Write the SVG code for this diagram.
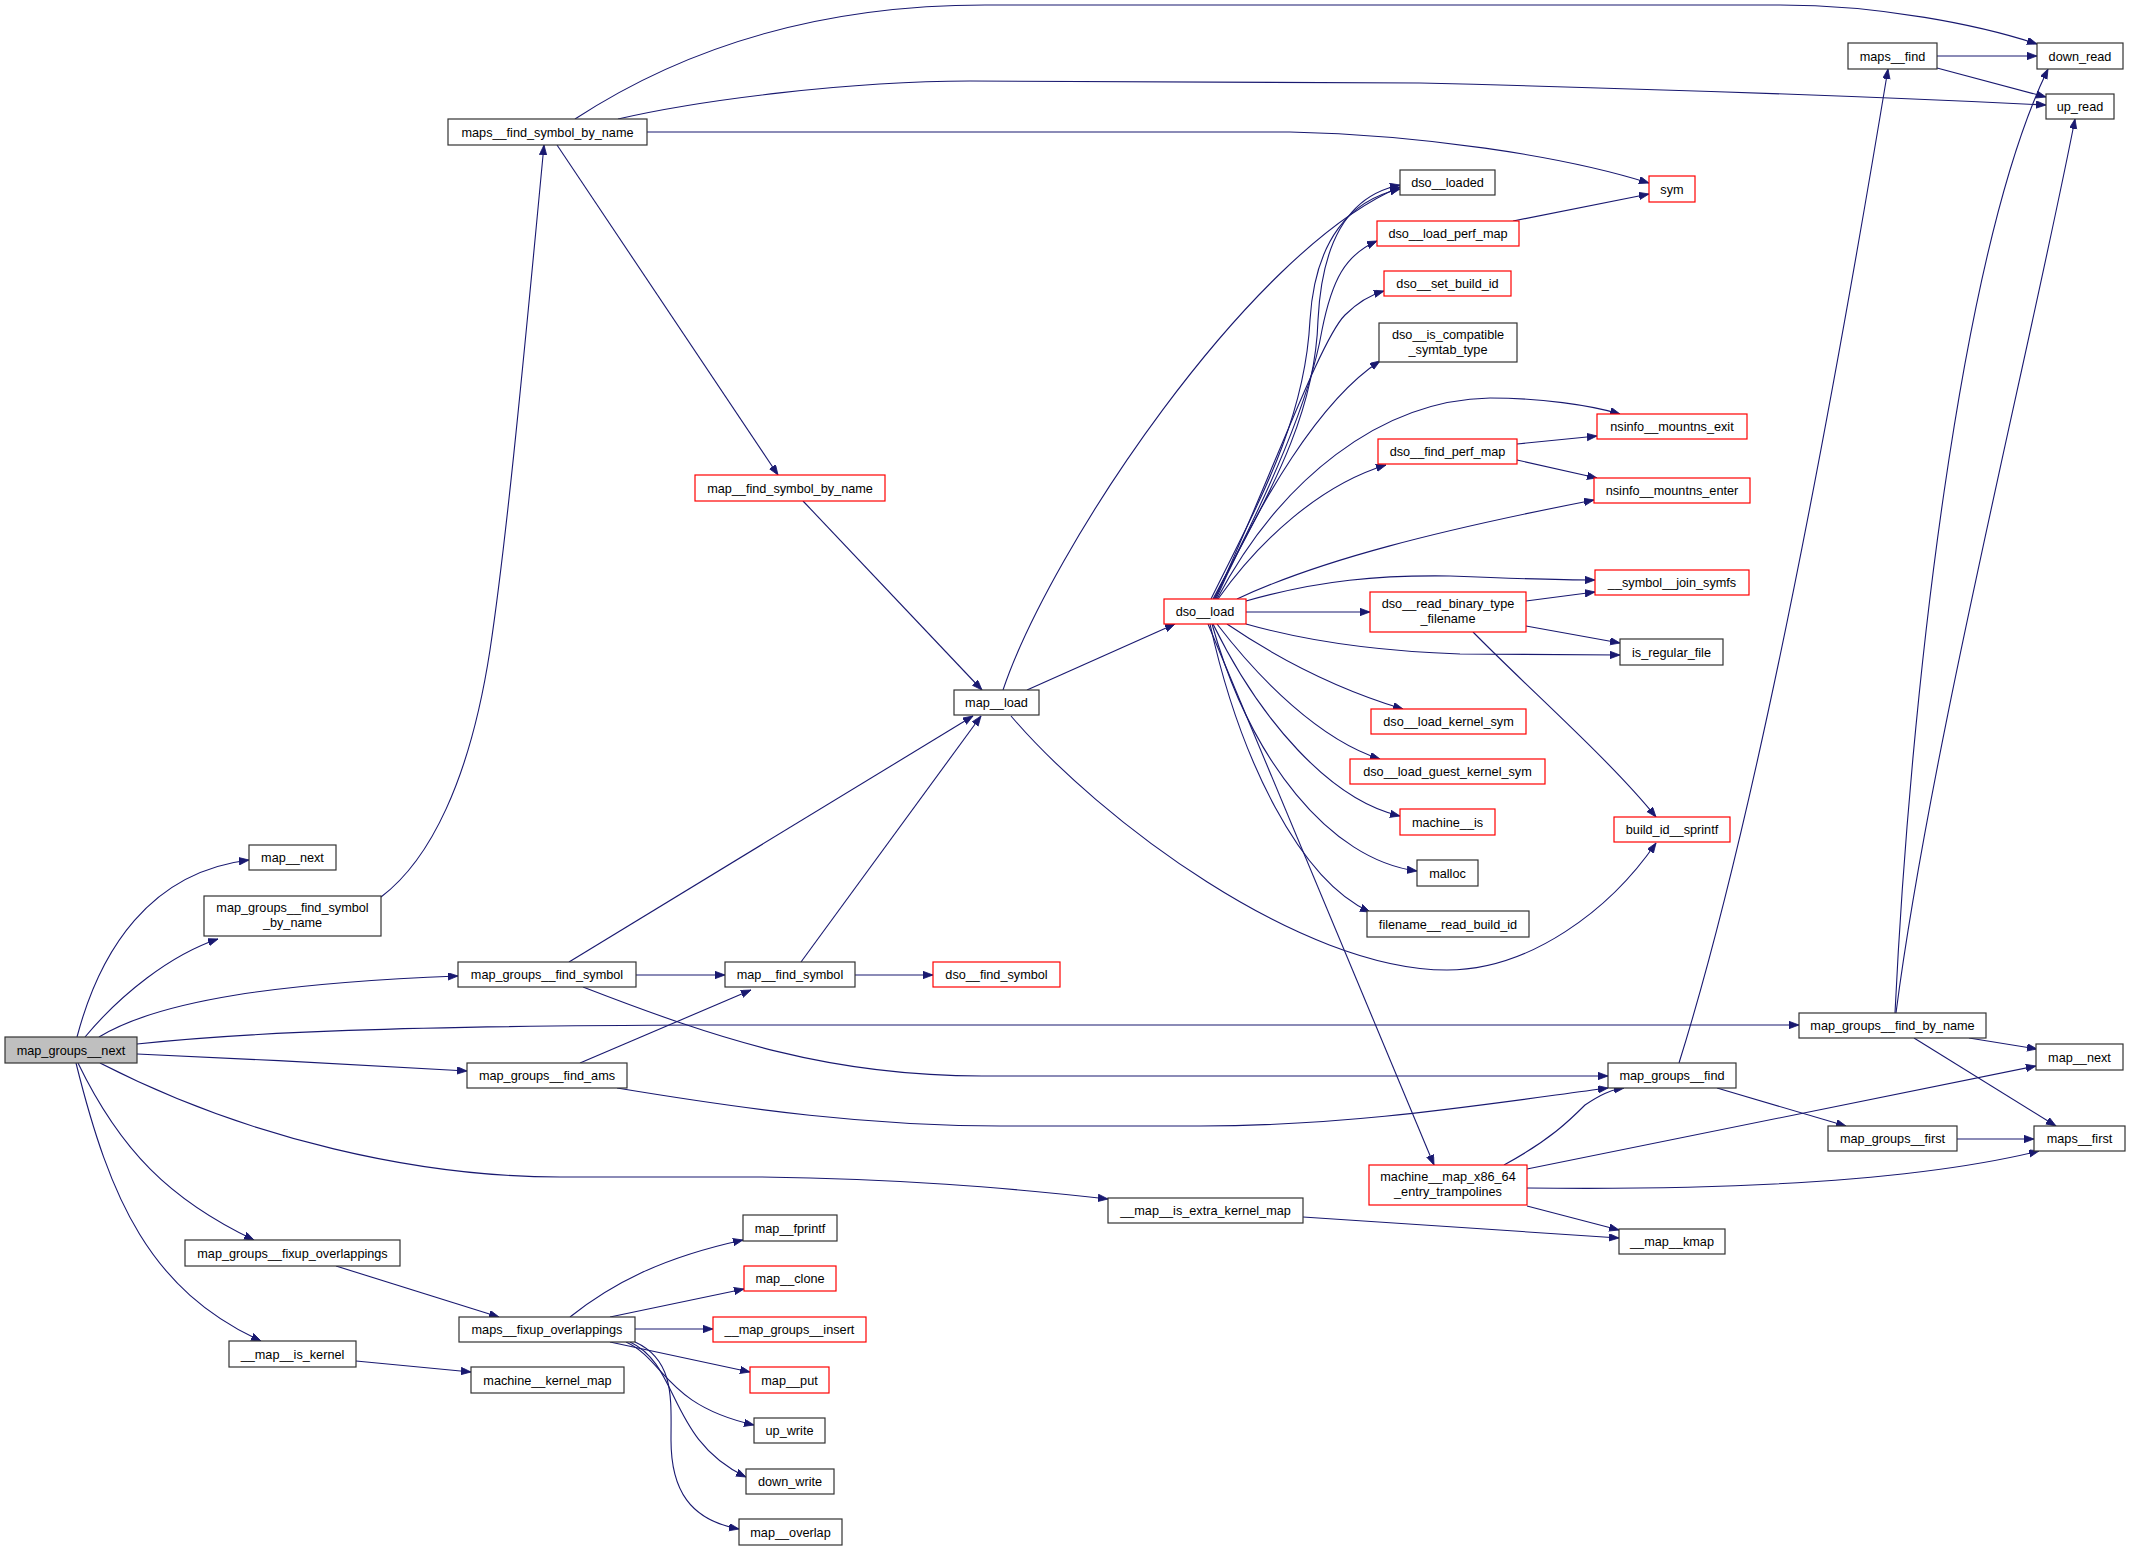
<svg xmlns="http://www.w3.org/2000/svg" width="2131" height="1551" viewBox="0 0 2131 1551">
<style>
.n rect{fill:#fff;stroke:#333;stroke-width:1.2}
.n.r rect{stroke:#ff0000}
.n.root rect{fill:#bfbfbf}
.n text{font-family:"Liberation Sans",Arial,sans-serif;font-size:12.7px;fill:#000;text-anchor:middle}
#edges path{fill:none;stroke:#191970;stroke-width:1.1;marker-end:url(#ah)}
</style>
<defs>
<marker id="ah" markerUnits="userSpaceOnUse" markerWidth="12" markerHeight="9" refX="10" refY="3.7" orient="auto">
<path d="M0,0 L10,3.7 L0,7.4 z" fill="#191970" stroke="#191970" stroke-width="0.8"/>
</marker>
</defs>
<rect width="2131" height="1551" fill="#fff"/>
<g id="edges">
<path d="M77,1037 C100,950 150,872 249,860"/>
<path d="M85,1037 C120,995 170,955 218,939"/>
<path d="M99,1037 C160,1000 280,983 458,976"/>
<path d="M137,1044 C250,1032 400,1026 700,1025 L1799,1025"/>
<path d="M137,1054 C250,1059 350,1064 467,1071"/>
<path d="M100,1063 C250,1140 420,1177 560,1177 L760,1177 C900,1179 1000,1187 1108,1199"/>
<path d="M78,1063 C120,1150 170,1200 254,1240"/>
<path d="M76,1063 C110,1200 150,1290 261,1341"/>
<path d="M336,1266 L499,1317"/>
<path d="M356,1361 L471,1372"/>
<path d="M570,1317 C610,1285 660,1258 743,1240"/>
<path d="M610,1317 L744,1289"/>
<path d="M635,1329 L713,1329"/>
<path d="M610,1342 L750,1372"/>
<path d="M626,1342 C665,1360 665,1405 754,1425"/>
<path d="M630,1342 C680,1365 668,1440 746,1477"/>
<path d="M635,1342 C675,1360 671,1400 671,1440 C671,1490 690,1520 739,1529"/>
<path d="M569,962 L973,716"/>
<path d="M636,975 L725,975"/>
<path d="M583,987 C720,1040 830,1076 982,1076 L1608,1076"/>
<path d="M580,1063 L751,990"/>
<path d="M617,1088 C750,1110 870,1126 1000,1126 L1200,1126 C1350,1126 1480,1105 1608,1088"/>
<path d="M801,962 L981,716"/>
<path d="M855,975 L933,975"/>
<path d="M381,897 C430,860 470,780 490,650 C505,550 520,400 544,145"/>
<path d="M575,119 C650,70 780,5 985,5 L1780,5 C1880,5 1980,25 2037,44"/>
<path d="M618,119 C700,100 850,81 970,81 L1420,83 C1700,90 1900,98 2046,105"/>
<path d="M647,132 L1290,132 C1420,135 1560,155 1649,183"/>
<path d="M557,145 L778,475"/>
<path d="M803,501 L982,690"/>
<path d="M1027,690 L1175,624"/>
<path d="M1003,690 C1050,550 1250,250 1400,187"/>
<path d="M1011,716 C1100,820 1300,970 1447,970 C1530,970 1610,910 1656,843"/>
<path d="M1211,599 C1260,500 1305,420 1310,320 C1315,240 1350,200 1400,189"/>
<path d="M1213,599 C1265,500 1315,420 1318,320 C1322,240 1350,195 1400,185"/>
<path d="M1214,599 C1270,490 1310,400 1322,330 C1332,280 1345,255 1377,241"/>
<path d="M1215,599 C1270,480 1320,340 1345,315 C1358,302 1370,295 1384,291"/>
<path d="M1216,599 C1260,500 1320,400 1380,361"/>
<path d="M1217,599 C1280,480 1380,400 1490,398 C1540,398 1590,405 1620,414"/>
<path d="M1218,599 C1260,540 1320,485 1386,465"/>
<path d="M1237,599 C1320,560 1440,530 1594,500"/>
<path d="M1246,601 C1320,580 1380,575 1450,576 C1500,578 1550,580 1595,580"/>
<path d="M1246,612 L1370,612"/>
<path d="M1246,624 C1320,645 1400,652 1460,654 L1620,655"/>
<path d="M1227,624 C1280,660 1340,690 1403,709"/>
<path d="M1217,624 C1260,680 1320,740 1380,759"/>
<path d="M1213,624 C1260,720 1330,800 1400,816"/>
<path d="M1212,624 C1250,760 1330,860 1417,871"/>
<path d="M1210,624 C1240,760 1300,880 1370,912"/>
<path d="M1208,624 L1434,1165"/>
<path d="M1526,601 L1595,592"/>
<path d="M1526,626 L1620,643"/>
<path d="M1473,632 C1530,690 1610,760 1656,817"/>
<path d="M1513,221 L1649,194"/>
<path d="M1517,444 L1597,436"/>
<path d="M1517,460 L1597,478"/>
<path d="M1504,1165 C1550,1140 1570,1120 1585,1105 C1600,1095 1610,1090 1624,1088"/>
<path d="M1527,1169 L2036,1066"/>
<path d="M1527,1188 C1700,1190 1900,1185 2039,1151"/>
<path d="M1527,1206 L1619,1230"/>
<path d="M1303,1217 L1619,1238"/>
<path d="M1717,1088 L1846,1126"/>
<path d="M1679,1063 C1730,900 1800,600 1888,69"/>
<path d="M1957,1139 L2034,1139"/>
<path d="M1969,1038 L2037,1049"/>
<path d="M1914,1038 L2056,1126"/>
<path d="M1895,1013 C1910,700 1960,250 2048,69"/>
<path d="M1896,1013 C1930,750 2030,350 2075,119"/>
<path d="M1937,56 L2037,56"/>
<path d="M1937,68 L2046,97"/>
</g>
<g id="n_map_groups__next" class="n root"><rect x="5" y="1037" width="132" height="26"/><text x="71" y="1054.5">map_groups__next</text></g>
<g id="n_map__next_l" class="n"><rect x="249" y="845" width="87" height="25"/><text x="292.5" y="862">map__next</text></g>
<g id="n_map_groups__find_symbol_by_name" class="n"><rect x="204" y="896" width="177" height="40"/><text x="292.5" y="912">map_groups__find_symbol</text><text x="292.5" y="927">_by_name</text></g>
<g id="n_map_groups__find_symbol" class="n"><rect x="458" y="962" width="178" height="25"/><text x="547" y="979">map_groups__find_symbol</text></g>
<g id="n_map_groups__find_ams" class="n"><rect x="467" y="1063" width="160" height="25"/><text x="547" y="1080">map_groups__find_ams</text></g>
<g id="n_map_groups__fixup_overlappings" class="n"><rect x="185" y="1240" width="215" height="26"/><text x="292.5" y="1257.5">map_groups__fixup_overlappings</text></g>
<g id="n___map__is_kernel" class="n"><rect x="229" y="1341" width="127" height="26"/><text x="292.5" y="1358.5">__map__is_kernel</text></g>
<g id="n_maps__find_symbol_by_name" class="n"><rect x="448" y="119" width="199" height="26"/><text x="547.5" y="136.5">maps__find_symbol_by_name</text></g>
<g id="n_map__find_symbol_by_name" class="n r"><rect x="695" y="475" width="190" height="26"/><text x="790" y="492.5">map__find_symbol_by_name</text></g>
<g id="n_map__load" class="n"><rect x="954" y="690" width="85" height="25"/><text x="996.5" y="707">map__load</text></g>
<g id="n_map__find_symbol" class="n"><rect x="725" y="962" width="130" height="25"/><text x="790" y="979">map__find_symbol</text></g>
<g id="n_dso__find_symbol" class="n r"><rect x="933" y="962" width="127" height="25"/><text x="996.5" y="979">dso__find_symbol</text></g>
<g id="n_maps__fixup_overlappings" class="n"><rect x="459" y="1317" width="176" height="25"/><text x="547" y="1334">maps__fixup_overlappings</text></g>
<g id="n_machine__kernel_map" class="n"><rect x="471" y="1367" width="153" height="26"/><text x="547.5" y="1384.5">machine__kernel_map</text></g>
<g id="n_map__fprintf" class="n"><rect x="743" y="1215" width="94" height="26"/><text x="790" y="1232.5">map__fprintf</text></g>
<g id="n_map__clone" class="n r"><rect x="744" y="1266" width="92" height="25"/><text x="790" y="1283">map__clone</text></g>
<g id="n___map_groups__insert" class="n r"><rect x="713" y="1317" width="153" height="25"/><text x="789.5" y="1334">__map_groups__insert</text></g>
<g id="n_map__put" class="n r"><rect x="750" y="1367" width="79" height="26"/><text x="789.5" y="1384.5">map__put</text></g>
<g id="n_up_write" class="n"><rect x="754" y="1418" width="71" height="25"/><text x="789.5" y="1435">up_write</text></g>
<g id="n_down_write" class="n"><rect x="746" y="1469" width="88" height="25"/><text x="790" y="1486">down_write</text></g>
<g id="n_map__overlap" class="n"><rect x="739" y="1519" width="103" height="26"/><text x="790.5" y="1536.5">map__overlap</text></g>
<g id="n___map__is_extra_kernel_map" class="n"><rect x="1108" y="1198" width="195" height="25"/><text x="1205.5" y="1215">__map__is_extra_kernel_map</text></g>
<g id="n_dso__load" class="n r"><rect x="1164" y="599" width="82" height="25"/><text x="1205" y="616">dso__load</text></g>
<g id="n_dso__loaded" class="n"><rect x="1400" y="170" width="95" height="25"/><text x="1447.5" y="187">dso__loaded</text></g>
<g id="n_dso__load_perf_map" class="n r"><rect x="1377" y="221" width="142" height="25"/><text x="1448" y="238">dso__load_perf_map</text></g>
<g id="n_dso__set_build_id" class="n r"><rect x="1384" y="271" width="127" height="25"/><text x="1447.5" y="288">dso__set_build_id</text></g>
<g id="n_dso__is_compatible_symtab_type" class="n"><rect x="1379" y="323" width="138" height="39"/><text x="1448" y="339">dso__is_compatible</text><text x="1448" y="354">_symtab_type</text></g>
<g id="n_dso__find_perf_map" class="n r"><rect x="1378" y="439" width="139" height="25"/><text x="1447.5" y="456">dso__find_perf_map</text></g>
<g id="n_dso__read_binary_type_filename" class="n r"><rect x="1370" y="592" width="156" height="40"/><text x="1448" y="608">dso__read_binary_type</text><text x="1448" y="623">_filename</text></g>
<g id="n_dso__load_kernel_sym" class="n r"><rect x="1371" y="709" width="155" height="25"/><text x="1448.5" y="726">dso__load_kernel_sym</text></g>
<g id="n_dso__load_guest_kernel_sym" class="n r"><rect x="1350" y="759" width="195" height="25"/><text x="1447.5" y="776">dso__load_guest_kernel_sym</text></g>
<g id="n_machine__is" class="n r"><rect x="1400" y="809" width="95" height="26"/><text x="1447.5" y="826.5">machine__is</text></g>
<g id="n_malloc" class="n"><rect x="1417" y="860" width="61" height="26"/><text x="1447.5" y="877.5">malloc</text></g>
<g id="n_filename__read_build_id" class="n"><rect x="1367" y="911" width="162" height="26"/><text x="1448" y="928.5">filename__read_build_id</text></g>
<g id="n_machine__map_x86_64_entry_trampolines" class="n r"><rect x="1369" y="1165" width="158" height="40"/><text x="1448" y="1181">machine__map_x86_64</text><text x="1448" y="1196">_entry_trampolines</text></g>
<g id="n_sym" class="n r"><rect x="1649" y="176" width="46" height="26"/><text x="1672" y="193.5">sym</text></g>
<g id="n_nsinfo__mountns_exit" class="n r"><rect x="1597" y="414" width="150" height="25"/><text x="1672" y="431">nsinfo__mountns_exit</text></g>
<g id="n_nsinfo__mountns_enter" class="n r"><rect x="1594" y="478" width="156" height="25"/><text x="1672" y="495">nsinfo__mountns_enter</text></g>
<g id="n___symbol__join_symfs" class="n r"><rect x="1595" y="570" width="154" height="25"/><text x="1672" y="587">__symbol__join_symfs</text></g>
<g id="n_is_regular_file" class="n"><rect x="1620" y="639" width="103" height="26"/><text x="1671.5" y="656.5">is_regular_file</text></g>
<g id="n_build_id__sprintf" class="n r"><rect x="1614" y="817" width="116" height="25"/><text x="1672" y="834">build_id__sprintf</text></g>
<g id="n_map_groups__find" class="n"><rect x="1608" y="1063" width="128" height="25"/><text x="1672" y="1080">map_groups__find</text></g>
<g id="n___map__kmap" class="n"><rect x="1619" y="1229" width="106" height="25"/><text x="1672" y="1246">__map__kmap</text></g>
<g id="n_maps__find" class="n"><rect x="1848" y="43" width="89" height="26"/><text x="1892.5" y="60.5">maps__find</text></g>
<g id="n_map_groups__find_by_name" class="n"><rect x="1799" y="1013" width="187" height="25"/><text x="1892.5" y="1030">map_groups__find_by_name</text></g>
<g id="n_map_groups__first" class="n"><rect x="1828" y="1126" width="129" height="25"/><text x="1892.5" y="1143">map_groups__first</text></g>
<g id="n_down_read" class="n"><rect x="2037" y="43" width="86" height="26"/><text x="2080" y="60.5">down_read</text></g>
<g id="n_up_read" class="n"><rect x="2046" y="94" width="68" height="25"/><text x="2080" y="111">up_read</text></g>
<g id="n_map__next_r" class="n"><rect x="2036" y="1044" width="87" height="26"/><text x="2079.5" y="1061.5">map__next</text></g>
<g id="n_maps__first" class="n"><rect x="2034" y="1126" width="91" height="25"/><text x="2079.5" y="1143">maps__first</text></g>
</svg>
